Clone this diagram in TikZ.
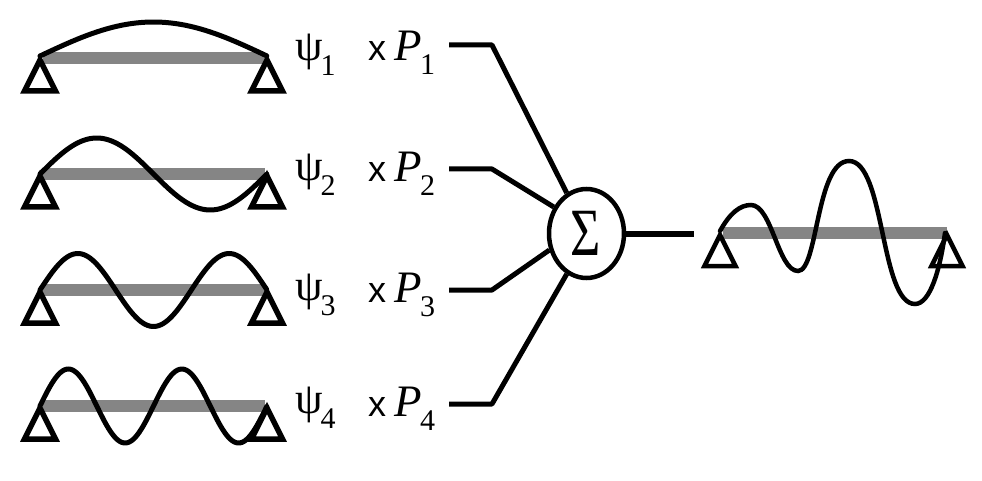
\documentclass[tikz,border=0pt]{standalone}
\usepackage{fontspec}
\setmainfont{Liberation Serif}
\newfontfamily\lsans{Liberation Sans}
\usetikzlibrary{shapes.geometric}
\newcommand{\subfnt}{\fontsize{30}{30}\selectfont}
\tikzset{
  beam/.style={line width=11.5pt,draw=black!48,line cap=butt},
  support/.style={line width=5.5pt,draw=black,miter limit=10,line join=miter},
  wave/.style={line width=5pt,draw=black,line cap=round},
  stub/.style={line width=5pt,draw=black,line join=round},
  psilabel/.style={anchor=base west,inner sep=0pt,font=\fontsize{44}{44}\selectfont},
  plabel/.style={anchor=base west,inner sep=0pt,font=\fontsize{45}{45}\selectfont},
  sumnode/.style={ellipse,draw=black,line width=4.5pt,fill=white,minimum width=75pt,minimum height=89pt,inner sep=0pt}
}
\newcommand{\suppt}[3][]{\draw[support,#1] (#2,#3+2) -- (#2+15.5,#3+33) -- (#2-15.5,#3+33) -- cycle;}
\begin{document}
\begin{tikzpicture}[x=1pt,y=-1pt]
\useasboundingbox (0,0) rectangle (982,481);
% beams and supports
\foreach \yy in {58,174,290,406}{
  \draw[beam] (43,\yy) -- (265,\yy);
  \suppt{40}{\yy}
  \suppt{267}{\yy}
}
% mode shapes
\draw[wave,domain=0:1,samples=60,smooth,variable=\t] plot ({40+227*\t},{56-34*sin(180*\t)});
\draw[wave,domain=0:1,samples=80,smooth,variable=\t] plot ({40+227*\t},{174-36*sin(360*\t)});
\draw[wave,domain=0:1,samples=100,smooth,variable=\t] plot ({40+227*\t},{290-36.5*sin(540*\t)});
\draw[wave,domain=0:1,samples=120,smooth,variable=\t] plot ({40+227*\t},{406-37*sin(720*\t)});
% labels
\node[psilabel] (psi1) at (295,61) {ψ\hspace{-2pt}\raisebox{-15pt}{\subfnt 1}};
\node[psilabel] (psi2) at (295,181) {ψ\hspace{-2pt}\raisebox{-15pt}{\subfnt 2}};
\node[psilabel] (psi3) at (295,300) {ψ\hspace{-2pt}\raisebox{-15pt}{\subfnt 3}};
\node[psilabel] (psi4) at (295,413) {ψ\hspace{-2pt}\raisebox{-15pt}{\subfnt 4}};
\node[plabel] (p1) at (368,61) {{\lsans\fontsize{36}{36}\selectfont x}\hspace{8.5pt}\textit{P}\hspace{-2pt}\raisebox{-14pt}{\subfnt 1}};
\node[plabel] (p2) at (368,182) {{\lsans\fontsize{36}{36}\selectfont x}\hspace{8.5pt}\textit{P}\hspace{-2pt}\raisebox{-14pt}{\subfnt 2}};
\node[plabel] (p3) at (368,302) {{\lsans\fontsize{36}{36}\selectfont x}\hspace{8.5pt}\textit{P}\hspace{-2pt}\raisebox{-14pt}{\subfnt 3}};
\node[plabel] (p4) at (368,416) {{\lsans\fontsize{36}{36}\selectfont x}\hspace{8.5pt}\textit{P}\hspace{-2pt}\raisebox{-14pt}{\subfnt 4}};
% summation
\node[sumnode] (sum) at (586.5,233.5) {\hspace{-2pt}\fontsize{52}{52}\selectfont\scalebox{1}[1.3]{Σ}};
\coordinate (in1) at (449,45);
\coordinate (in2) at (449,169);
\coordinate (in3) at (449,290);
\coordinate (in4) at (449,404);
\coordinate (out) at (694,233.5);
\draw[stub] (in1) -- (492,45) -- (sum.116);
\draw[stub] (in2) -- (492,169) -- (sum.141);
\draw[stub] (in3) -- (492,290) -- (sum.204);
\draw[stub] (in4) -- (492,404) -- (sum.244);
\draw[stub,line width=6pt] (sum.east) -- (out);
% resultant
\draw[beam] (723,233) -- (947,233);
\suppt[line width=4.5pt]{720}{233}
\suppt[line width=4.5pt]{947}{233}
\draw[wave,line width=4.5pt] (720,231) .. controls (730,213) and (740,205) .. (751,205)
  .. controls (772,205) and (778,271) .. (798,271)
  .. controls (818,271) and (816,161) .. (849,161)
  .. controls (885,161) and (880,304) .. (915,304)
  .. controls (930,304) and (940,270) .. (945,233);
\end{tikzpicture}
\end{document}
